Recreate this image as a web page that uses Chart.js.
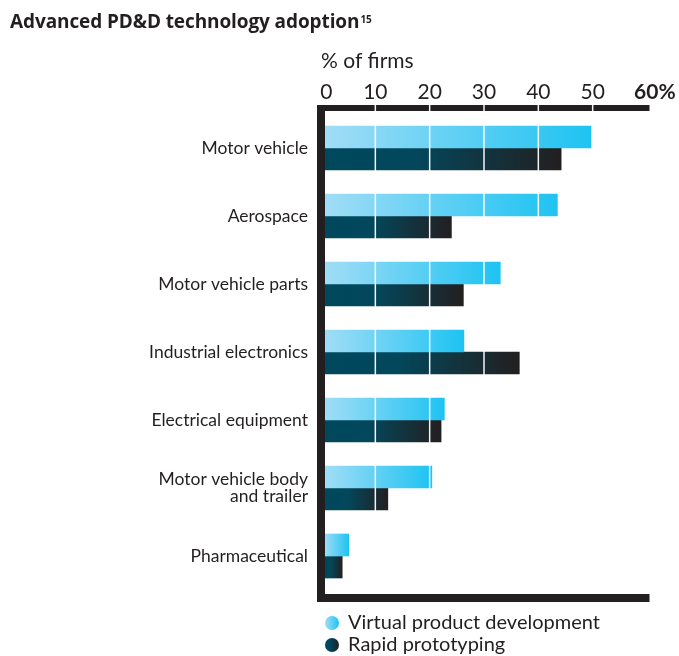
<!DOCTYPE html>
<html>
<head>
<meta charset="utf-8">
<script src="https://cdn.jsdelivr.net/npm/chart.js@4/dist/chart.umd.min.js"></script>
<style>
  html, body { margin: 0; padding: 0; background: #ffffff; }
  #wrap { position: relative; width: 679px; height: 656px; overflow: hidden; font-family: Lato, "Open Sans", sans-serif; color: #231f20; }
  #chart { position: absolute; left: 0; top: 0; }
  #title { position: absolute; left: 10px; top: 8px; font-family: "Open Sans", sans-serif; font-weight: bold; font-size: 19px; line-height: 26px; white-space: nowrap; letter-spacing: -0.1px; }
  #title sup { font-size: 10px; vertical-align: top; position: relative; top: -2px; margin-left: 1px; }
  .leg { position: absolute; left: 325px; height: 22px; line-height: 22px; font-size: 20px; white-space: nowrap; }
  .leg i { position: absolute; left: 0; top: 6px; width: 14px; height: 14px; border-radius: 50%; }
  .leg span { position: absolute; left: 23px; top: 0; }
</style>
</head>
<body>
<div id="wrap">
  <canvas id="chart" width="679" height="656"></canvas>
  <div id="title">Advanced PD&amp;D technology adoption<sup>15</sup></div>
  <div class="leg" style="top:610px"><i style="background:linear-gradient(to right,#a0dcf6,#1ec3f2)"></i><span>Virtual product development</span></div>
  <div class="leg" style="top:632px"><i style="background:linear-gradient(to right,#00485d 35%,#231f20)"></i><span>Rapid prototyping</span></div>
</div>
<script>
// ---- data ----
const categories = [
  'Motor vehicle',
  'Aerospace',
  'Motor vehicle parts',
  'Industrial electronics',
  'Electrical equipment',
  ['Motor vehicle body', 'and trailer'],
  'Pharmaceutical'
];
const seriesNames = ['Virtual product development', 'Rapid prototyping'];
const virtualProductDevelopment = [49.7, 43.5, 33.0, 26.3, 22.7, 20.4, 5.1];
const rapidPrototyping = [44.2, 24.0, 26.2, 36.5, 22.1, 12.3, 3.9];
const tickValues = [0, 10, 20, 30, 40, 50, 60];
const axisTitle = '% of firms';

// ---- styles ----
const INK = '#231f20';
const FONT = 'Lato, "Open Sans", sans-serif';
const vpdStops = [[0, '#a2ddf6'], [1, '#1ec3f2']];
const rpStops = [[0, '#00485d'], [0.38, '#03475b'], [1, '#231f20']];

function barGradient(stops) {
  return function (ctx) {
    const chart = ctx.chart;
    if (!chart.chartArea || ctx.type !== 'data') return stops[0][1];
    const xs = chart.scales.x;
    const v = ctx.raw;
    const x0 = xs.getPixelForValue(0);
    const x1 = xs.getPixelForValue(v);
    if (!isFinite(x0) || !isFinite(x1) || x1 - x0 < 1) return stops[0][1];
    const g = chart.ctx.createLinearGradient(x0 + 3, 0, x1, 0);
    stops.forEach(s => g.addColorStop(s[0], s[1]));
    return g;
  };
}

const framePlugin = {
  id: 'frame',
  afterDatasetsDraw(chart) {
    const { ctx, chartArea } = chart;
    const xs = chart.scales.x;
    const x0 = xs.getPixelForValue(0);
    const xEnd = xs.getPixelForValue(60) + 2.5;
    const topA = chartArea.top - 9, topB = chartArea.top - 3;
    const botA = chartArea.bottom + 4, botB = chartArea.bottom + 12;
    ctx.save();
    ctx.fillStyle = INK;
    ctx.fillRect(x0 - 4, topA, xEnd - (x0 - 4), topB - topA);
    ctx.fillRect(x0 - 4, botA, xEnd - (x0 - 4), botB - botA);
    ctx.fillRect(x0 - 4, topA, 8, botB - topA);
    // white grid lines over the bars
    ctx.strokeStyle = 'rgba(255,255,255,0.95)';
    ctx.lineWidth = 1.5;
    tickValues.forEach(v => {
      if (v === 0 || v === 60) return;
      const x = xs.getPixelForValue(v);
      ctx.beginPath();
      ctx.moveTo(x, topA);
      ctx.lineTo(x, chartArea.bottom);
      ctx.stroke();
    });
    ctx.restore();
  }
};

new Chart(document.getElementById('chart'), {
  type: 'bar',
  data: {
    labels: categories,
    datasets: [
      { label: seriesNames[0], data: virtualProductDevelopment, backgroundColor: barGradient(vpdStops), barThickness: 22, borderWidth: 0 },
      { label: seriesNames[1], data: rapidPrototyping, backgroundColor: barGradient(rpStops), barThickness: 22, borderWidth: 0 }
    ]
  },
  options: {
    indexAxis: 'y',
    responsive: false,
    animation: false,
    devicePixelRatio: 1,
    layout: { padding: { top: 49, left: 0, right: 32, bottom: 66 } },
    plugins: { legend: { display: false }, tooltip: { enabled: false }, title: { display: false } },
    scales: {
      x: {
        type: 'linear',
        position: 'top',
        min: 0,
        max: 60,
        afterFit(scale) { scale.height = 65; scale.paddingLeft = 0; scale.paddingRight = 0; },
        afterBuildTicks(scale) { scale.ticks = tickValues.map(v => ({ value: v })); },
        grid: { display: false, drawTicks: false },
        border: { display: false },
        title: { display: true, text: axisTitle, align: 'start', color: INK, font: { family: FONT, size: 21 }, padding: { top: 0, bottom: 0 } },
        ticks: {
          color: INK,
          padding: 9,
          maxRotation: 0,
          autoSkip: false,
          font: (c) => ({ family: FONT, size: 21, weight: (c.tick && c.tick.value === 60) ? 'bold' : 'normal' }),
          callback: (v) => v === 60 ? '\u2003' + v + '%' : (v === 0 ? '\u2002' + v : String(v))
        }
      },
      y: {
        type: 'category',
        afterFit(scale) { scale.width = 321; },
        grid: { display: false, drawTicks: false },
        border: { display: false },
        ticks: { color: INK, padding: 13, font: { family: FONT, size: 17.5, lineHeight: 1.0 } }
      }
    }
  },
  plugins: [framePlugin]
});
</script>
</body>
</html>
